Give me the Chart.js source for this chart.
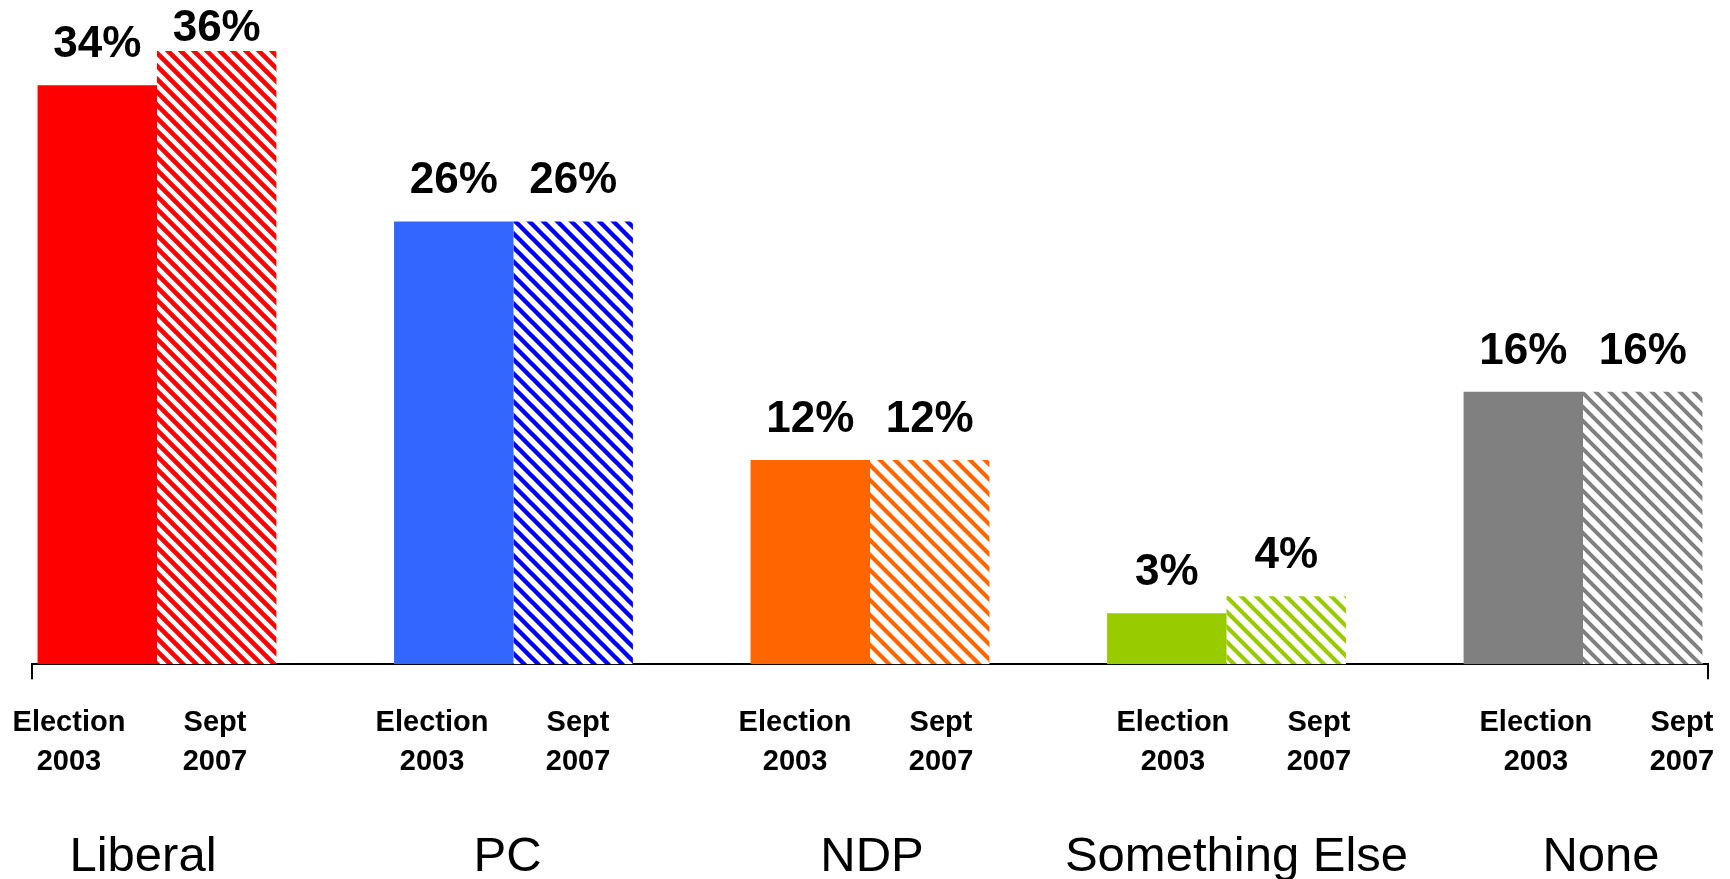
<!DOCTYPE html>
<html>
<head>
<meta charset="utf-8">
<script src="https://cdn.jsdelivr.net/npm/chart.js@4.4.1/dist/chart.umd.min.js"></script>
<style>
  html, body { margin: 0; padding: 0; background: #fff; }
  #wrap { width: 1730px; height: 879px; }
</style>
</head>
<body>
<div id="wrap"><canvas id="votesChart"></canvas></div>
<script>
// Data
const parties = ['Liberal', 'PC', 'NDP', 'Something Else', 'None'];
const periodLabels = [['Election', '2003'], ['Sept', '2007']];
const election2003 = [34, 26, 12, 3, 16];
const sept2007 = [36, 26, 12, 4, 16];
// where each "Election / Sept" pair sits on the label row (last two sit a little right)
const periodRowPos = [0, 1, 2, 3.041, 4.041];

// Colours
const solidColors = ['#FF0000', '#3366FF', '#FF6600', '#99CC00', '#808080'];
const hatchColors = ['#FF0000', '#0000FF', '#FF6600', '#99CC00', '#808080'];
const hatchGaps = [13, 14, 15, 15, 14];
const hatchWidths = [4.6, 4.4, 4.2, 4.2, 4];

const FONT = '"Liberation Sans", Arial, Helvetica, sans-serif';

// diagonal "\" stripes on white
function makeHatch(color, gap, lw) {
  const c = document.createElement('canvas');
  c.width = gap; c.height = gap;
  const g = c.getContext('2d');
  g.fillStyle = '#fff';
  g.fillRect(0, 0, gap, gap);
  g.strokeStyle = color;
  g.lineWidth = lw;
  g.beginPath();
  for (let k = -1; k <= 1; k++) {
    g.moveTo(-gap, -gap + k * gap);
    g.lineTo(2 * gap, 2 * gap + k * gap);
  }
  g.stroke();
  return g.createPattern(c, 'repeat');
}

const hatchFills = hatchColors.map((c, i) => makeHatch(c, hatchGaps[i], hatchWidths[i]));

// Value labels above bars
const valueLabels = {
  id: 'valueLabels',
  afterDatasetsDraw(chart) {
    const ctx = chart.ctx;
    ctx.save();
    ctx.font = 'bold 44px ' + FONT;
    ctx.fillStyle = '#000';
    ctx.textAlign = 'center';
    ctx.textBaseline = 'alphabetic';
    chart.data.datasets.forEach((ds, di) => {
      chart.getDatasetMeta(di).data.forEach((bar, i) => {
        const y = Math.max(bar.y - 28, 41);
        ctx.fillText(ds.data[i].y + '%', bar.x, y);
      });
    });
    ctx.restore();
  }
};

// label rows should not push the plot area inwards
const noSidePadding = scale => {
  scale.paddingLeft = 0;
  scale.paddingRight = 0;
};

new Chart(document.getElementById('votesChart'), {
  type: 'bar',
  data: {
    datasets: [{
      label: 'Election 2003',
      data: election2003.map((v, i) => ({ x: i, y: v })),
      backgroundColor: solidColors,
      borderWidth: 0
    }, {
      label: 'Sept 2007',
      data: sept2007.map((v, i) => ({ x: i, y: v })),
      backgroundColor: hatchFills,
      borderWidth: 0
    }]
  },
  options: {
    responsive: true,
    maintainAspectRatio: false,
    animation: false,
    categoryPercentage: 0.67,
    barPercentage: 1,
    // party names run off the bottom edge in the original
    layout: { padding: { left: 32, right: 22, top: 0, bottom: -31 } },
    plugins: {
      legend: { display: false },
      tooltip: { enabled: false }
    },
    scales: {
      y: {
        display: false,
        min: 0,
        max: 39
      },
      x: {
        type: 'linear',
        position: 'bottom',
        weight: 0,
        min: -0.3506,
        max: 4.3506,
        offset: false,
        afterBuildTicks: scale => {
          scale.ticks = [{ value: scale.min }, { value: scale.max }];
        },
        ticks: { display: false },
        grid: {
          offset: false,
          drawOnChartArea: false,
          drawTicks: true,
          tickLength: 15,
          color: '#000',
          lineWidth: 2
        },
        border: { display: true, color: '#000', width: 2 }
      },
      x2: {
        type: 'linear',
        position: 'bottom',
        weight: 1,
        min: -0.1019,
        max: 4.515,
        offset: false,
        afterBuildTicks: scale => {
          const t = [];
          periodRowPos.forEach(p => {
            t.push({ value: p });
            t.push({ value: p + 0.4022 });
          });
          scale.ticks = t;
        },
        afterFit: noSidePadding,
        ticks: {
          autoSkip: false,
          maxRotation: 0,
          padding: 24,
          color: '#000',
          font: { family: FONT, size: 29, weight: 'bold', lineHeight: 1.34 },
          callback: (v, i) => periodLabels[i % 2]
        },
        grid: { display: false, drawTicks: false, offset: false },
        border: { display: false }
      },
      x3: {
        type: 'linear',
        position: 'bottom',
        weight: 2,
        min: -0.3045,
        max: 4.2936,
        offset: false,
        afterBuildTicks: scale => {
          scale.ticks = parties.map((p, i) => ({ value: i }));
        },
        afterFit: noSidePadding,
        ticks: {
          autoSkip: false,
          maxRotation: 0,
          padding: 28,
          color: '#000',
          font: { family: FONT, size: 49, weight: 'normal', lineHeight: 1.0 },
          callback: (v, i) => parties[i]
        },
        grid: { display: false, drawTicks: false, offset: false },
        border: { display: false }
      }
    }
  },
  plugins: [valueLabels]
});
</script>
</body>
</html>
